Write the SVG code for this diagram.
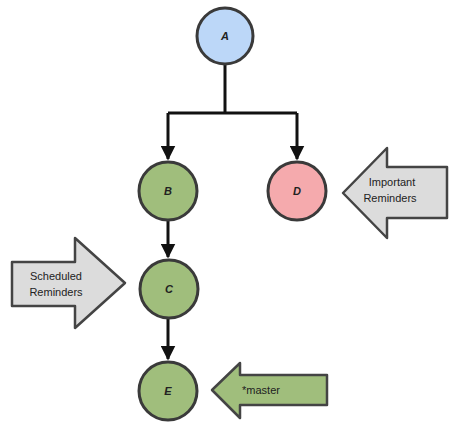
<svg xmlns="http://www.w3.org/2000/svg" width="449" height="423" viewBox="0 0 449 423">
<style>
.node{stroke:#3a3a3a;stroke-width:3}
.blue{fill:#bcd7f8}
.green{fill:#a0be7c}
.pink{fill:#f5aaad}
.lbl{font-family:"Liberation Sans",Arial,sans-serif;font-size:11px;font-weight:bold;font-style:italic;fill:#222;text-anchor:middle}
.edge{stroke:#111;stroke-width:3;fill:none}
.ptr{stroke:#444;stroke-width:2.5;stroke-linejoin:round}
.gray{fill:#dcdcdc}
.ptxt{font-family:"Liberation Sans",Arial,sans-serif;font-size:11px;fill:#222;text-anchor:middle}
</style>
<defs>
<marker id="ah" markerWidth="5" markerHeight="5" refX="4.5" refY="2.5" orient="auto" markerUnits="strokeWidth">
<path d="M0,0 L5,2.5 L0,5 Z" fill="#111"/>
</marker>
</defs>
<rect width="449" height="423" fill="#fff"/>
<g id="connectors">
<path class="edge" d="M225,64 V113"/>
<path class="edge" d="M168,113 H297"/>
<path class="edge" d="M168,113 V159" marker-end="url(#ah)"/>
<path class="edge" d="M297,113 V159" marker-end="url(#ah)"/>
<path class="edge" d="M168,221 V257" marker-end="url(#ah)"/>
<path class="edge" d="M168,318 V359" marker-end="url(#ah)"/>
</g>
<g id="A"><circle class="node blue" cx="225" cy="36" r="28"/><text class="lbl" x="225" y="40">A</text></g>
<g id="B"><circle class="node green" cx="168" cy="191" r="29"/><text class="lbl" x="168" y="195">B</text></g>
<g id="D"><circle class="node pink" cx="297" cy="191" r="29"/><text class="lbl" x="297" y="195">D</text></g>
<g id="C"><circle class="node green" cx="169" cy="289" r="29"/><text class="lbl" x="169" y="293">C</text></g>
<g id="E"><circle class="node green" cx="168" cy="391" r="29"/><text class="lbl" x="168" y="395">E</text></g>
<g id="scheduled">
<polygon class="ptr gray" points="12,262 75,262 75,238 125,283 75,328 75,306 12,306"/>
<text class="ptxt" x="56" y="280">Scheduled</text>
<text class="ptxt" x="56" y="296">Reminders</text>
</g>
<g id="important">
<polygon class="ptr gray" points="447,167 387,167 387,148 343,193 387,238 387,218 447,218"/>
<text class="ptxt" x="392" y="186">Important</text>
<text class="ptxt" x="390" y="202">Reminders</text>
</g>
<g id="master">
<polygon class="ptr green" points="327,375 240,375 240,363 212,390 240,418 240,405 327,405"/>
<text class="ptxt" x="261" y="394">*master</text>
</g>
</svg>
